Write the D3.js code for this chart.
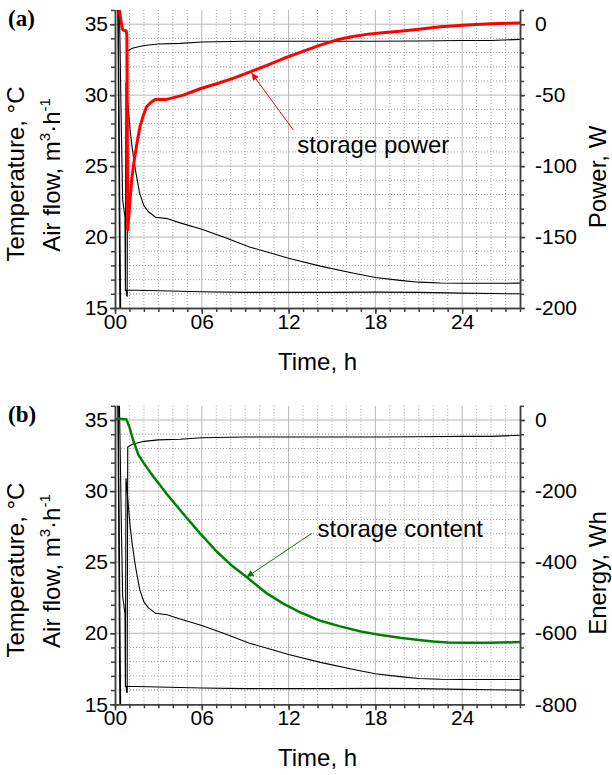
<!DOCTYPE html>
<html>
<head>
<meta charset="utf-8">
<script src="https://cdn.jsdelivr.net/npm/d3@7"></script>
<style>
  body { margin: 0; background: #fff; }
  svg { display: block; font-family: "Liberation Sans", Arial, sans-serif; }
  .grid-major { stroke: #b8b8b8; stroke-width: 1; }
  .grid-minor { stroke: #a4a4a4; stroke-width: 1; stroke-dasharray: 1,2; }
  .axis path, .axis line { stroke: #404040; stroke-width: 1.5; }
  .axis text { font-size: 21px; fill: #000; }
  .title { font-size: 24px; fill: #000; }
</style>
</head>
<body>
<svg id="chart" width="612" height="775"></svg>
<script>
'use strict'

var hourTicks = [0, 6, 12, 18, 24],
    hourLabels = ["00", "06", "12", "18", "24"],
    tempTicks = [15, 20, 25, 30, 35],
    powerTicks = [0, -50, -100, -150, -200],
    energyTicks = [0, -200, -400, -600, -800];

// temperatures / air flow in deg C scale, [hour, value]; same data in both panels
var tempUpper = [[0.84, 15.8], [0.88, 33.1], [1.2, 33.3], [2, 33.5], [3, 33.6], [4.5, 33.65],
    [6, 33.75], [9, 33.8], [12, 33.8], [15, 33.8], [18, 33.8], [21, 33.82], [24, 33.85],
    [26, 33.85], [28, 33.93]];

var tempMiddle = [[0.3, 36.5], [0.45, 27], [0.53, 22.6], [0.69, 21.4], [0.72, 16.2], [0.76, 30.9],
    [0.92, 29], [1.05, 27.5], [1.2, 26.2], [1.4, 24.8], [1.7, 23.1], [2.0, 22.2], [2.3, 21.8],
    [2.8, 21.4], [3.6, 21.3], [4.5, 21.0], [6, 20.55], [7.5, 20.0], [9.3, 19.3], [11, 18.8],
    [12, 18.5], [14.2, 17.95], [16.5, 17.45], [18, 17.15], [19.7, 16.95], [21, 16.82],
    [22.5, 16.76], [24, 16.74], [28, 16.75]];

var tempLower = [[0.78, 16.3], [0.8, 15.85], [0.83, 16.27], [1.5, 16.25], [3, 16.22], [6, 16.15],
    [9, 16.1], [12, 16.1], [15, 16.1], [18, 16.12], [21, 16.1], [24, 16.05], [26, 16.02], [28, 16.0]];

var airFlowA = [[0.22, 36.3], [0.39, 14.8]],
    airFlowB = [[0, 36], [0.2, 36], [0.34, 14.5]];

// storage power, W
var storagePower = [[0.15, 20], [0.5, -3], [0.56, -4.2], [0.78, -4.8], [0.82, -8], [0.88, -145],
    [1.04, -124], [1.15, -110], [1.27, -100], [1.33, -96], [1.5, -85], [1.73, -72], [2.0, -63],
    [2.19, -58], [2.5, -55], [2.77, -53], [3.57, -53], [4.72, -50], [5.88, -45.5], [7.03, -42],
    [8.2, -38], [9.34, -33.6], [10.5, -29], [11.64, -24.2], [12.9, -19.5], [14.18, -14.8],
    [15.3, -11.2], [16.25, -9], [17.5, -7], [18.5, -6], [19.7, -5], [21, -3.5], [22.5, -1.8],
    [24.3, -0.5], [26, 0.3], [28, 0.8]];

// storage content, Wh
var storageContent = [[0, 0], [0.2, 4], [0.5, 3], [0.78, 2], [0.85, -5], [1.0, -20], [1.15, -42],
    [1.3, -62], [1.62, -98], [2.0, -122], [2.42, -146], [2.77, -165], [3.58, -208], [4.7, -263],
    [5.88, -319], [7.03, -370], [8.0, -407], [9.1, -442], [10.5, -488], [11.6, -516],
    [12.8, -541], [14.2, -565], [15.5, -580], [17, -595], [18.5, -606], [19.7, -613], [21, -619],
    [22, -623], [23, -626], [24.3, -627], [26, -627], [28, -625]];

var svg = d3.select("#chart");
var x = d3.scaleLinear().domain([0, 28]).range([115, 520]);

var defs = svg.append("defs");
["red", "#008000"].forEach(function(c, i) {
  defs.append("marker")
      .attr("id", "head" + i)
      .attr("viewBox", "0 0 10 10")
      .attr("refX", 10).attr("refY", 5)
      .attr("markerWidth", 9).attr("markerHeight", 7)
      .attr("markerUnits", "userSpaceOnUse")
      .attr("orient", "auto")
    .append("path")
      .attr("d", "M0,0L10,5L0,10z")
      .attr("fill", c);
});

var panels = [
  { id: "a", label: "(a)", top: 10, bottom: 308, rightDomain: [-200, 10], rightTicks: powerTicks,
    rightTitle: "Power, W", series: storagePower, color: "red", width: 3, marker: 0,
    note: "storage power", head: [9.45, -34.5], tail: [12.33, -74.6], noteAt: [12.6, -90.5] },
  { id: "b", label: "(b)", top: 405.8, bottom: 704.3, rightDomain: [-800, 40], rightTicks: energyTicks,
    rightTitle: "Energy, Wh", series: storageContent, color: "#008000", width: 2.5, marker: 1,
    note: "storage content", head: [9.1, -442], tail: [13.6, -319], noteAt: [14.0, -329] }
];

panels.forEach(function(p) {
  var yT = d3.scaleLinear().domain([15, 36]).range([p.bottom, p.top]);
  var yR = d3.scaleLinear().domain(p.rightDomain).range([p.bottom, p.top]);
  var g = svg.append("g");

  // grid
  g.append("g").selectAll("line")
      .data(d3.range(1, 28).filter(function(h) { return h % 6; }))
    .enter().append("line")
      .attr("class", "grid-minor")
      .attr("x1", x).attr("x2", x)
      .attr("y1", p.top).attr("y2", p.bottom);
  g.append("g").selectAll("line")
      .data(d3.range(16, 36).filter(function(v) { return v % 5; }))
    .enter().append("line")
      .attr("class", "grid-minor")
      .attr("x1", x(0)).attr("x2", x(28))
      .attr("y1", yT).attr("y2", yT);
  g.append("g").selectAll("line")
      .data(hourTicks.slice(1))
    .enter().append("line")
      .attr("class", "grid-major")
      .attr("x1", x).attr("x2", x)
      .attr("y1", p.top).attr("y2", p.bottom);
  g.append("g").selectAll("line")
      .data(tempTicks.slice(1))
    .enter().append("line")
      .attr("class", "grid-major")
      .attr("x1", x(0)).attr("x2", x(28))
      .attr("y1", yT).attr("y2", yT);

  // lines
  g.append("clipPath").attr("id", "clip" + p.id)
    .append("rect")
      .attr("x", x(0)).attr("y", p.top)
      .attr("width", x(28) - x(0)).attr("height", p.bottom - p.top);

  var plot = g.append("g").attr("clip-path", "url(#clip" + p.id + ")");
  var tLine = d3.line().x(function(d) { return x(d[0]); }).y(function(d) { return yT(d[1]); });
  var rLine = d3.line().x(function(d) { return x(d[0]); }).y(function(d) { return yR(d[1]); });

  plot.selectAll("path.temp")
      .data([airFlowB, airFlowA, tempLower, tempMiddle, tempUpper])
    .enter().append("path")
      .attr("class", "temp")
      .attr("d", tLine)
      .attr("fill", "none")
      .attr("stroke", "#000")
      .attr("stroke-width", 1.1);

  plot.append("path")
      .attr("d", rLine(p.series))
      .attr("fill", "none")
      .attr("stroke", p.color)
      .attr("stroke-width", p.width)
      .attr("stroke-linejoin", "round");

  // annotation
  g.append("line")
      .attr("x1", x(p.tail[0])).attr("y1", yR(p.tail[1]))
      .attr("x2", x(p.head[0])).attr("y2", yR(p.head[1]))
      .attr("stroke", p.color)
      .attr("stroke-width", 1)
      .attr("marker-end", "url(#head" + p.marker + ")");
  g.append("text")
      .attr("x", x(p.noteAt[0])).attr("y", yR(p.noteAt[1]))
      .style("font-size", "24px")
      .text(p.note);

  // axes
  var plain = function(d) { return String(d); };
  g.append("g").attr("class", "axis")
      .attr("transform", "translate(0," + p.bottom + ")")
      .call(d3.axisBottom(x).tickValues(d3.range(0, 29)).tickSize(4).tickSizeOuter(0).tickFormat(""));
  g.append("g").attr("class", "axis")
      .attr("transform", "translate(0," + p.bottom + ")")
      .call(d3.axisBottom(x).tickValues(hourTicks).tickSize(6).tickSizeOuter(0).tickPadding(0)
        .tickFormat(function(d, i) { return hourLabels[i]; }));

  g.append("g").attr("class", "axis")
      .attr("transform", "translate(" + x(0) + ",0)")
      .call(d3.axisLeft(yT).tickValues(d3.range(15, 37)).tickSize(4).tickSizeOuter(0).tickFormat(""));
  g.append("g").attr("class", "axis")
      .attr("transform", "translate(" + x(0) + ",0)")
      .call(d3.axisLeft(yT).tickValues(tempTicks).tickSize(5).tickSizeOuter(0).tickPadding(2)
        .tickFormat(plain));

  var step = (p.rightDomain[1] - p.rightDomain[0]) / 21;
  g.append("g").attr("class", "axis")
      .attr("transform", "translate(" + x(28) + ",0)")
      .call(d3.axisRight(yR).tickValues(d3.range(p.rightDomain[0], p.rightDomain[1] + 1, step))
        .tickSize(4).tickSizeOuter(0).tickFormat(""));
  g.append("g").attr("class", "axis")
      .attr("transform", "translate(" + x(28) + ",0)")
      .call(d3.axisRight(yR).tickValues(p.rightTicks).tickSize(5).tickSizeOuter(0).tickPadding(10)
        .tickFormat(plain));

  // titles
  g.append("text").attr("class", "title")
      .attr("x", (x(0) + x(28)) / 2).attr("y", p.bottom + 62)
      .attr("text-anchor", "middle")
      .text("Time, h");

  var midY = (p.top + p.bottom) / 2;
  g.append("text").attr("class", "title")
      .attr("transform", "translate(24," + (midY + 15) + ") rotate(-90)")
      .attr("text-anchor", "middle")
      .text("Temperature, °C");
  var flow = g.append("text").attr("class", "title")
      .attr("transform", "translate(60," + (midY + 16) + ") rotate(-90)")
      .attr("text-anchor", "middle");
  flow.append("tspan").text("Air flow, m");
  flow.append("tspan").attr("dy", -10).style("font-size", "15px").text("3");
  flow.append("tspan").attr("dy", 10).text("·h");
  flow.append("tspan").attr("dy", -10).style("font-size", "15px").text("-1");

  g.append("text").attr("class", "title")
      .attr("transform", "translate(606," + (midY + 18) + ") rotate(-90)")
      .attr("text-anchor", "middle")
      .text(p.rightTitle);

  g.append("text")
      .attr("x", 8).attr("y", p.top + 16)
      .style("font-family", "'Liberation Serif', 'Times New Roman', serif")
      .style("font-weight", "bold")
      .style("font-size", "23px")
      .text(p.label);
});
</script>
</body>
</html>
